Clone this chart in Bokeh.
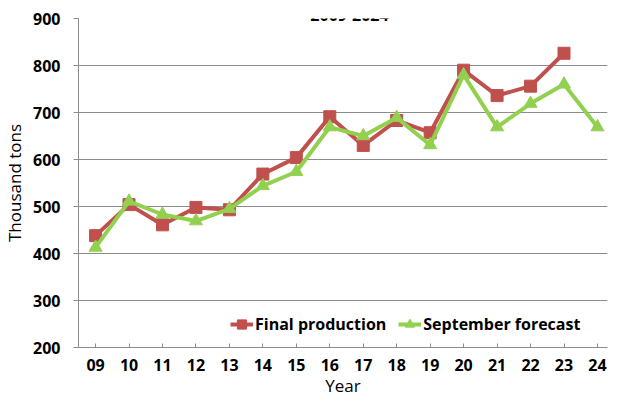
import numpy as np
from bokeh.plotting import figure
from bokeh.models import Range1d, FixedTicker, Legend, LegendItem, Label
from bokeh.embed import file_html
from bokeh.resources import INLINE

# ---- data ----
years = ["09", "10", "11", "12", "13", "14", "15", "16",
         "17", "18", "19", "20", "21", "22", "23", "24"]
final_production = [438, 504, 461, 498, 493, 569, 604, 691,
                    630, 683, 657, 790, 736, 756, 826, np.nan]
september_forecast = [413, 511, 483, 469, 495, 544, 574, 669,
                      650, 689, 631, 780, 669, 719, 760, 669]
series_names = ["Final production", "September forecast"]
y_ticks = [200, 300, 400, 500, 600, 700, 800, 900]
title_text = "2009-2024"
x_axis_title = "Year"
y_axis_title = "Thousand tons"

FONT = "Open Sans"
RED = "#C0504D"
GREEN = "#92D050"
GRAY = "#8c8c8c"

x = list(range(len(years)))

p = figure(width=608, height=399, output_backend="svg", toolbar_location=None,
           title=None,
           x_range=Range1d(-0.51, 15.3), y_range=Range1d(y_ticks[0], y_ticks[-1]),
           min_border_left=73, min_border_right=1, min_border_top=18,
           min_border_bottom=49)
p.outline_line_color = None
p.background_fill_color = "white"
p.border_fill_color = "white"

# axes
xa = p.xaxis[0]
xa.ticker = FixedTicker(ticks=x)
xa.major_label_overrides = {i: lab for i, lab in enumerate(years)}
xa.major_tick_in = 4
xa.major_tick_out = 0
xa.minor_tick_line_color = None
xa.axis_line_color = GRAY
xa.major_tick_line_color = GRAY
xa.major_label_text_font = FONT
xa.major_label_text_font_size = "16px"
xa.major_label_text_font_style = "bold"
xa.major_label_text_color = "black"
xa.major_label_standoff = 11
xa.axis_label = x_axis_title
xa.axis_label_text_font = FONT
xa.axis_label_text_font_size = "17px"
xa.axis_label_text_font_style = "normal"
xa.axis_label_text_color = "black"
xa.axis_label_standoff = 0

ya = p.yaxis[0]
ya.ticker = FixedTicker(ticks=y_ticks)
ya.major_tick_in = 0
ya.major_tick_out = 5
ya.minor_tick_line_color = None
ya.axis_line_color = GRAY
ya.major_tick_line_color = GRAY
ya.major_label_text_font = FONT
ya.major_label_text_font_size = "16px"
ya.major_label_text_font_style = "bold"
ya.major_label_text_color = "black"
ya.major_label_standoff = 13
ya.axis_label = y_axis_title
ya.axis_label_text_font = FONT
ya.axis_label_text_font_size = "17px"
ya.axis_label_text_font_style = "normal"
ya.axis_label_text_color = "black"
ya.axis_label_standoff = 4

p.xgrid.visible = False
p.ygrid.ticker = FixedTicker(ticks=y_ticks)
p.ygrid.grid_line_color = GRAY
p.ygrid.grid_line_width = 1

# series
r1 = p.line(x, final_production, line_color=RED, line_width=4)
s1 = p.scatter(x, final_production, marker="square", size=12,
               fill_color=RED, line_color=RED)
r2 = p.line(x, september_forecast, line_color=GREEN, line_width=4)
s2 = p.scatter(x, september_forecast, marker="triangle", size=13,
               fill_color=GREEN, line_color=GREEN)

legend = Legend(items=[LegendItem(label=series_names[0], renderers=[r1, s1]),
                       LegendItem(label=series_names[1], renderers=[r2, s2])],
                location=(152, 11), orientation="horizontal",
                glyph_width=23, glyph_height=24, label_height=24,
                label_standoff=2, spacing=12, padding=0, margin=0,
                border_line_color=None, background_fill_alpha=0,
                label_text_font=FONT, label_text_font_size="16px",
                label_text_font_style="bold", label_text_color="black")
p.add_layout(legend)

title = Label(x=271, x_units="screen", y=y_ticks[-1], y_units="data", y_offset=4,
              text=title_text, text_align="center", text_baseline="alphabetic",
              text_font=FONT, text_font_size="16px", text_font_style="bold",
              text_color="black")
p.add_layout(title)

open("out.html", "w").write(file_html(p, INLINE))
